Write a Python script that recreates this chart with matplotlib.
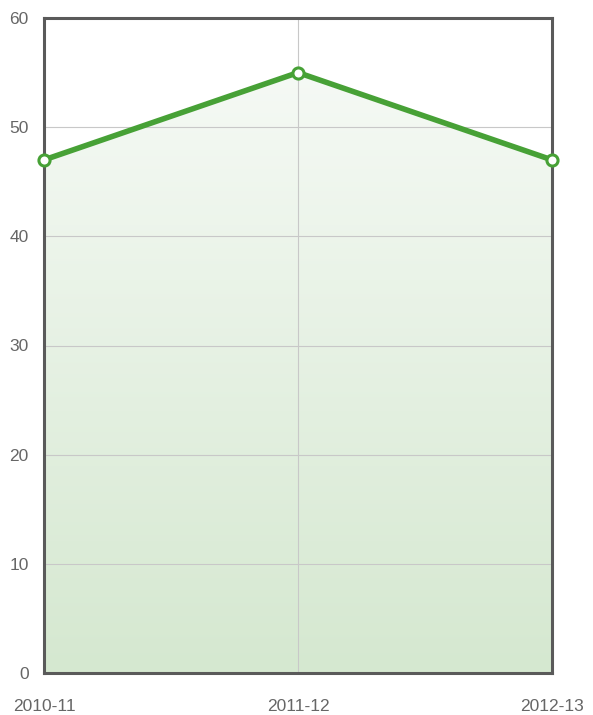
import numpy as np
import matplotlib.pyplot as plt
from matplotlib.patches import Polygon
from matplotlib.colors import LinearSegmentedColormap

years = ['2010-11', '2011-12', '2012-13']
values = [47, 55, 47]

plt.rcParams['font.family'] = ['Liberation Sans', 'DejaVu Sans']

fig = plt.figure(figsize=(5.93, 7.15), dpi=100)
ax = fig.add_axes([44 / 593, 1 - 673 / 715, 508 / 593, 655 / 715])

x = np.arange(len(years))
ax.set_xlim(0, len(years) - 1)
ax.set_ylim(0, 60)

# gradient fill under the line
cmap = LinearSegmentedColormap.from_list('g', ['#d5e8d0', '#f8fbf8'])
grad = np.linspace(0, 1, 256).reshape(-1, 1)
im = ax.imshow(grad, extent=[0, len(years) - 1, 0, 60], origin='lower',
               aspect='auto', cmap=cmap, zorder=1)
verts = [(0, 0)] + list(zip(x, values)) + [(len(years) - 1, 0)]
poly = Polygon(verts, closed=True, facecolor='none', edgecolor='none')
ax.add_patch(poly)
im.set_clip_path(poly)

ax.set_yticks(range(0, 61, 10))
ax.set_xticks(x)
ax.set_xticklabels(years)
ax.grid(True, color='#c8c8c8', linewidth=0.8, zorder=2)
ax.set_axisbelow(False)

ax.plot(x, values, color='#47a136', linewidth=4, marker='o', markersize=8,
        markerfacecolor='white', markeredgecolor='#47a136', markeredgewidth=2.2,
        zorder=5, clip_on=False, solid_joinstyle='round')

for s in ax.spines.values():
    s.set_color('#5a5a5a')
    s.set_linewidth(2.2)
    s.set_zorder(4)

ax.tick_params(length=0, labelsize=12.5, labelcolor='#666666')
ax.tick_params(axis='y', pad=11)
ax.tick_params(axis='x', pad=19)

fig.savefig('out.png', dpi=100)
